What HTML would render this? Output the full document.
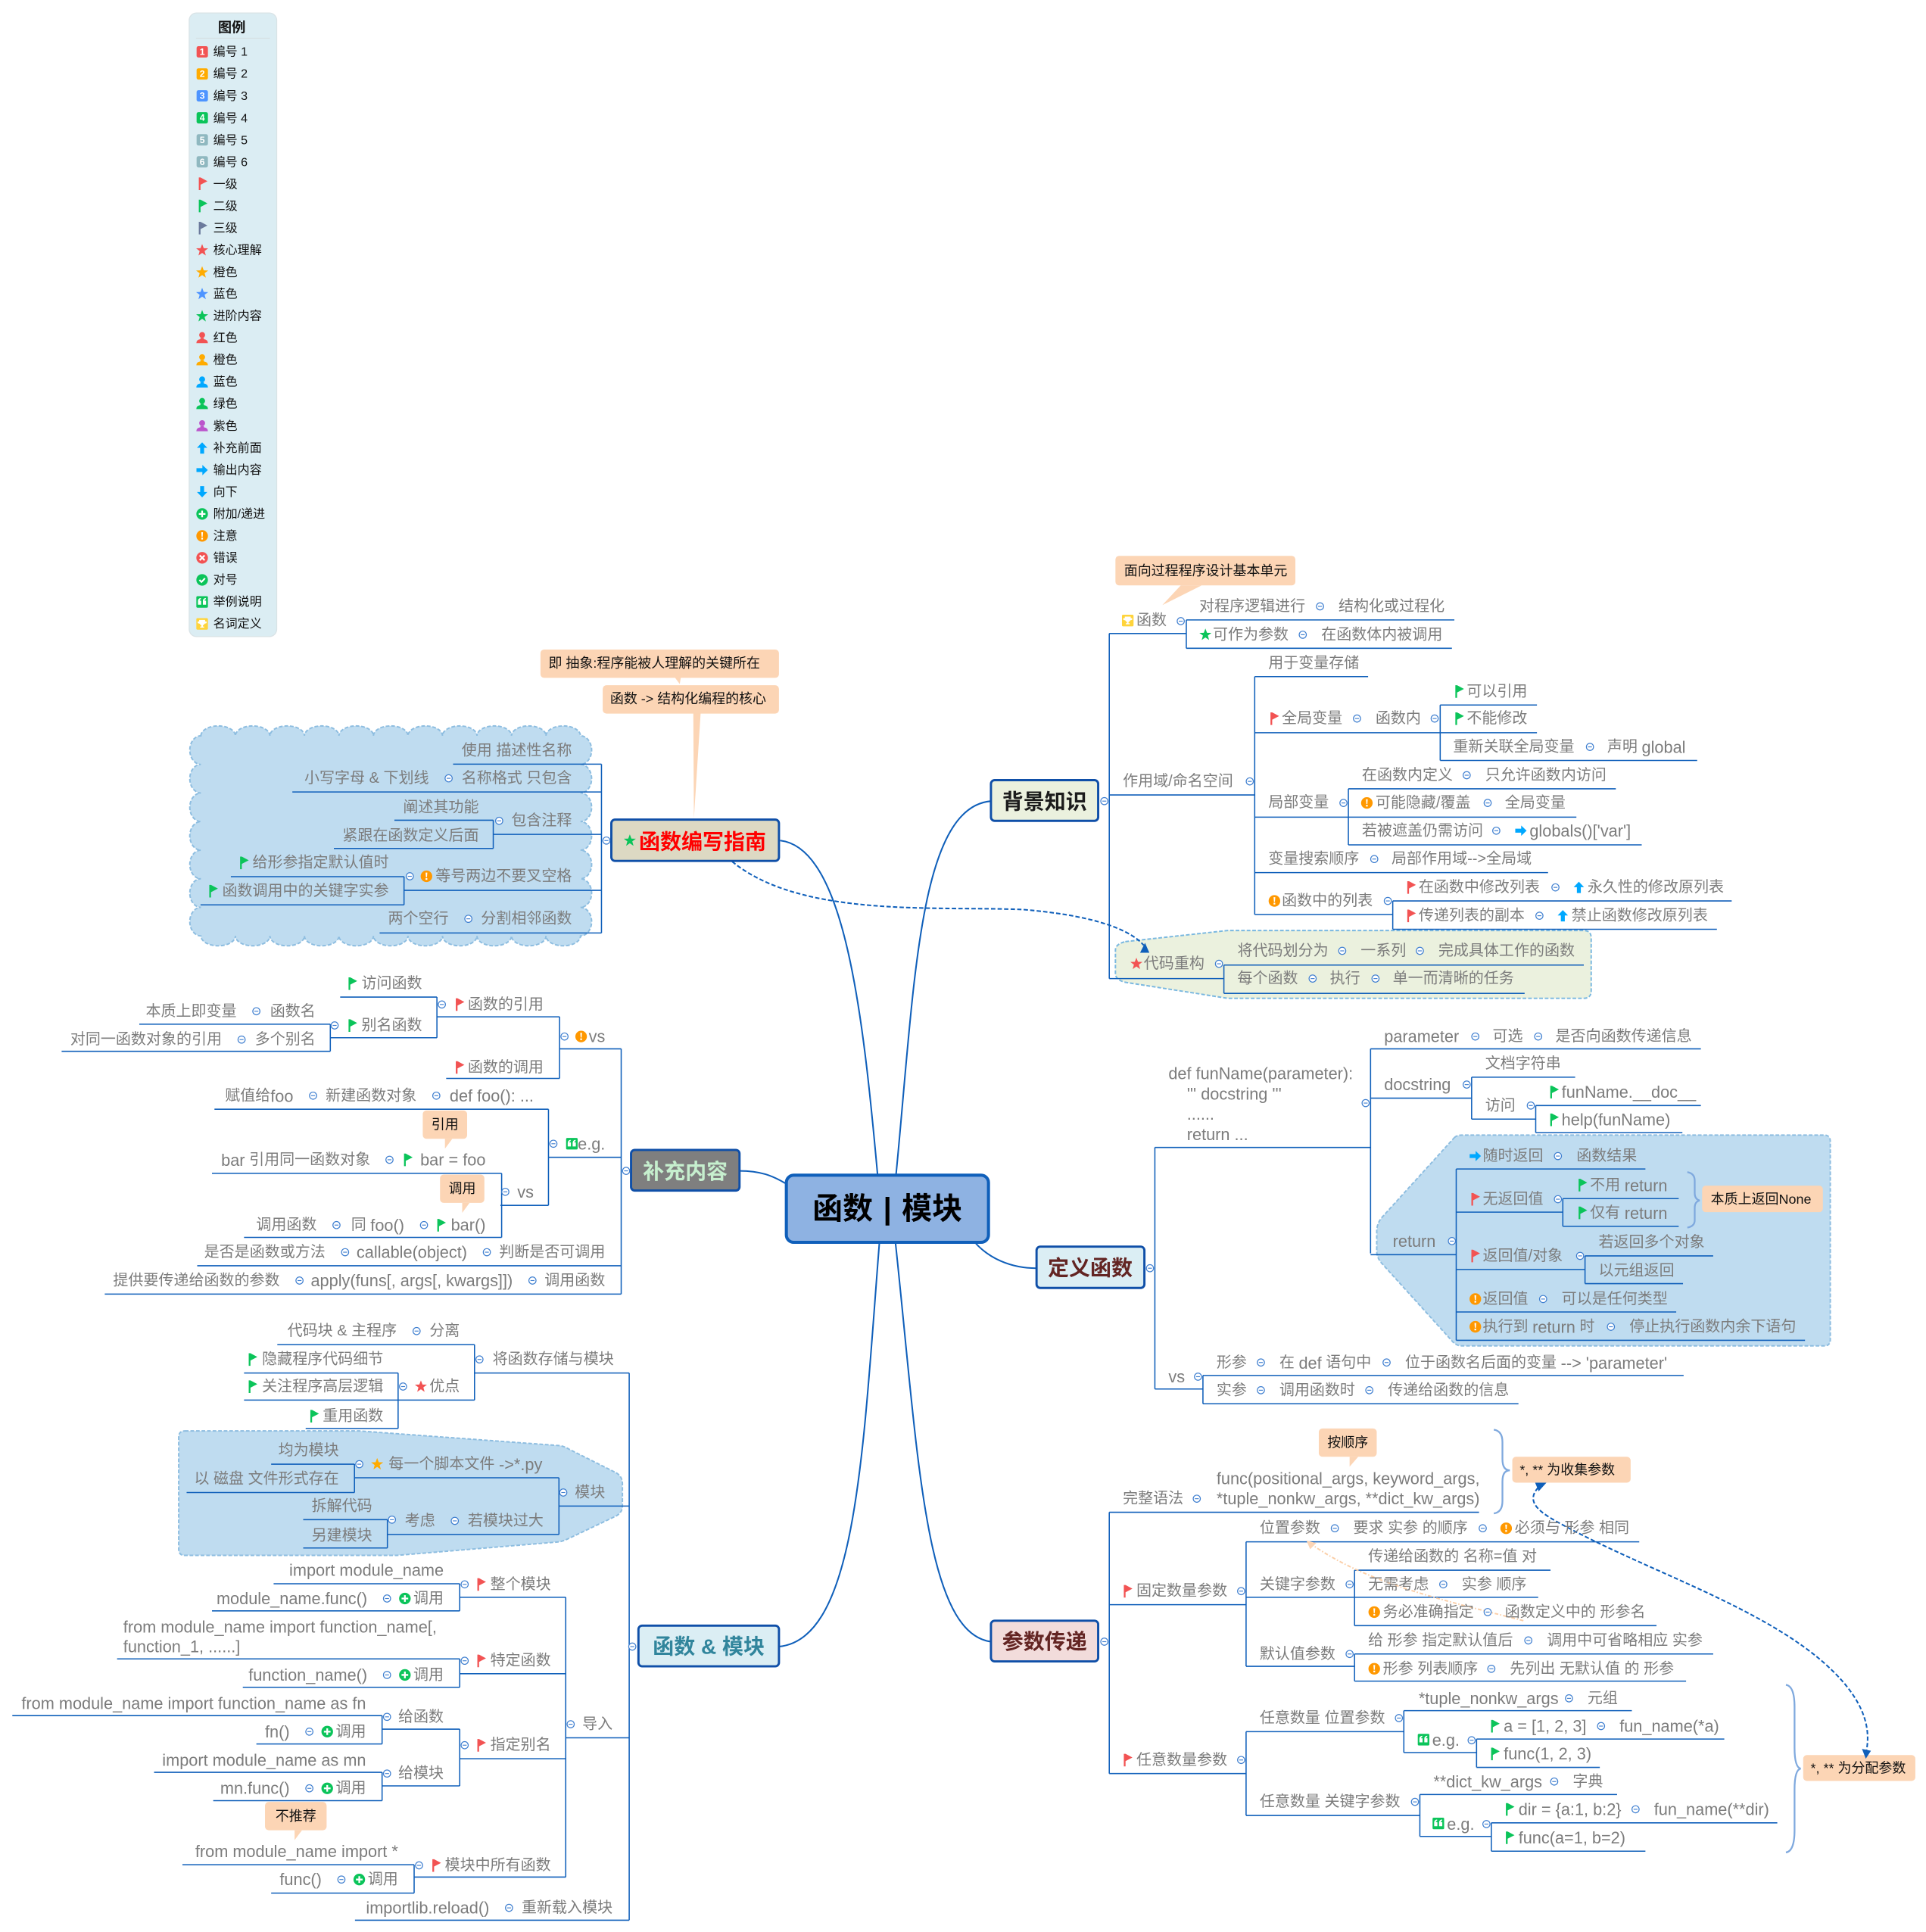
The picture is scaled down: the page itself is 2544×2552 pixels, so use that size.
<!DOCTYPE html>
<html lang="zh"><head><meta charset="utf-8"><title>函数 | 模块</title>
<style>
html,body{margin:0;padding:0;background:#fff}
svg{display:block}
text{font-family:"Liberation Sans","Noto Sans CJK SC",sans-serif;font-size:12.3px;fill:#7c7c7c;dominant-baseline:central}
.e{text-anchor:end}
.a{font-size:13.35px}
text.k{fill:#111;font-size:11.05px}
.m{text-anchor:middle}
.l text{font-size:9.85px;fill:#111}
.l text.n{font-size:7.5px;fill:#fff;font-weight:bold;text-anchor:middle}
text.t{font-size:17.2px;font-weight:bold;text-anchor:middle}
</style></head><body>
<svg xmlns="http://www.w3.org/2000/svg" width="2544" height="2552" viewBox="0 0 1562.65 1567.57">
<defs>
<path id="fp" d="M-3.2-5H-1.8L3.8-2L-1.8.9V5.2H-3.2Z"/>
<use id="fr" href="#fp" fill="#f25353"/>
<use id="fg" href="#fp" fill="#0bc45a"/>
<use id="fd" href="#fp" fill="#6b7a9c"/>
<polygon id="sp" points="0,-5 1.3,-1.6 4.9,-1.5 2,.7 3,4.3 0,2.2 -3,4.3 -2,.7 -4.9,-1.5 -1.3,-1.6"/>
<use id="sr" href="#sp" fill="#f25353"/>
<use id="sg" href="#sp" fill="#0bc45a"/>
<use id="so" href="#sp" fill="#ffab00"/>
<use id="sb" href="#sp" fill="#4d94ff"/>
<g id="w"><circle r="4.7" fill="#ff9800"/><path d="M-.7-3H.7L.4.8H-.4ZM-.7 1.5H.7V2.9H-.7Z" fill="#fff"/></g>
<path id="ar" d="M-4.6-1.6H.2V-4.2L4.6 0L.2 4.2V1.6H-4.6Z" fill="#00a8ff"/>
<path id="au" d="M-1.6 4.6V-.2H-4.2L0-4.6L4.2-.2H1.6V4.6Z" fill="#00a8ff"/>
<path id="ad" d="M-1.6-4.6V.2H-4.2L0 4.6L4.2.2H1.6V-4.6Z" fill="#00a8ff"/>
<g id="pl"><circle r="4.7" fill="#0bc45a"/><path d="M-.7-2.7H.7V-.7H2.7V.7H.7V2.7H-.7V.7H-2.7V-.7H-.7Z" fill="#fff"/></g>
<g id="xx"><circle r="4.7" fill="#f25353"/><path d="M-2-2L2 2M2-2L-2 2" stroke="#fff" stroke-width="1.4"/></g>
<g id="ck"><circle r="4.7" fill="#0bc45a"/><path d="M-2.2 0L-.5 1.7L2.3-1.3" stroke="#fff" stroke-width="1.3" fill="none"/></g>
<g id="eg"><rect x="-4.7" y="-4.7" width="9.4" height="9.4" rx="1" fill="#0bc45a"/><path d="M-3.4-.6Q-3.4-3 -1-3.2V-2.2Q-2-2-2-1.1H-.8V2.2H-3.4ZM.6-.6Q.6-3 3-3.2V-2.2Q2-2 2-1.1H3.2V2.2H.6Z" fill="#fff"/></g>
<g id="tr"><rect x="-4.7" y="-4.7" width="9.4" height="9.4" rx="1" fill="#ffd43b"/><path d="M-2.4-3.2H2.4V-2H3.6V-.6L2-.1Q1.4 1 .6 1.2V2.2H1.6V3H-1.6V2.2H-.6V1.2Q-1.4 1-2-.1L-3.6-.6V-2H-2.4Z" fill="#fff"/></g>
<g id="c"><circle r="2.9" fill="#fff" stroke="#3f7fd0" stroke-width=".75"/><path d="M-1.6 0H1.6" stroke="#3f7fd0" stroke-width=".7"/></g>
<g id="ph"><circle cy="-2.2" r="2.4"/><path d="M-4.7 4.4Q-4.7 1.6-1.4 1.2V.2H1.4V1.2Q4.7 1.6 4.7 4.4Z"/></g>
</defs>

<!-- legend -->
<rect x="153.5" y="10.5" width="71" height="506" rx="6" fill="#dbedf3" stroke="#d9e3e6" stroke-width=".8"/>
<path d="M159 31H219" stroke="#d5dfe2" stroke-width=".7"/>
<g class="l">
<text x="188" y="22" class="m" style="font-weight:bold;font-size:11.2px">图例</text>
<rect x="159.5" y="37.5" width="9.2" height="9.2" rx="1.5" fill="#f25353"/><text x="164.1" y="42.1" class="n">1</text><text x="173" y="42">编号 1</text>
<rect x="159.5" y="55.4" width="9.2" height="9.2" rx="1.5" fill="#ffab00"/><text x="164.1" y="60" class="n">2</text><text x="173" y="60">编号 2</text>
<rect x="159.5" y="73.2" width="9.2" height="9.2" rx="1.5" fill="#4d94ff"/><text x="164.1" y="77.8" class="n">3</text><text x="173" y="78">编号 3</text>
<rect x="159.5" y="91" width="9.2" height="9.2" rx="1.5" fill="#0bc45a"/><text x="164.1" y="95.6" class="n">4</text><text x="173" y="96">编号 4</text>
<rect x="159.5" y="108.9" width="9.2" height="9.2" rx="1.5" fill="#8fb8c0"/><text x="164.1" y="113.5" class="n">5</text><text x="173" y="114">编号 5</text>
<rect x="159.5" y="126.7" width="9.2" height="9.2" rx="1.5" fill="#8fb8c0"/><text x="164.1" y="131.3" class="n">6</text><text x="173" y="131.7">编号 6</text>
<use href="#fr" x="164.5" y="149"/><text x="173" y="149.5">一级</text>
<use href="#fg" x="164.5" y="167"/><text x="173" y="167.4">二级</text>
<use href="#fd" x="164.5" y="185"/><text x="173" y="185.2">三级</text>
<use href="#sr" x="164" y="203"/><text x="173" y="203">核心理解</text>
<use href="#so" x="164" y="221"/><text x="173" y="221">橙色</text>
<use href="#sb" x="164" y="238.5"/><text x="173" y="238.7">蓝色</text>
<use href="#sg" x="164" y="256.5"/><text x="173" y="256.6">进阶内容</text>
<use href="#ph" x="164" y="274" fill="#f25353"/><text x="173" y="274.4">红色</text>
<use href="#ph" x="164" y="292" fill="#ffab00"/><text x="173" y="292.2">橙色</text>
<use href="#ph" x="164" y="310" fill="#00a8ff"/><text x="173" y="310">蓝色</text>
<use href="#ph" x="164" y="327.5" fill="#0bc45a"/><text x="173" y="327.8">绿色</text>
<use href="#ph" x="164" y="345.5" fill="#bb55cc"/><text x="173" y="345.7">紫色</text>
<use href="#au" x="164" y="363.5"/><text x="173" y="363.5">补充前面</text>
<use href="#ar" x="164" y="381.4"/><text x="173" y="381.4">输出内容</text>
<use href="#ad" x="164" y="399"/><text x="173" y="399.2">向下</text>
<use href="#pl" x="164" y="417"/><text x="173" y="417">附加/递进</text>
<use href="#w" x="164" y="434.8"/><text x="173" y="434.8">注意</text>
<use href="#xx" x="164" y="452.6"/><text x="173" y="452.6">错误</text>
<use href="#ck" x="164" y="470.5"/><text x="173" y="470.5">对号</text>
<use href="#eg" x="164" y="488.4"/><text x="173" y="488.4">举例说明</text>
<use href="#tr" x="164" y="506.2"/><text x="173" y="506.2">名词定义</text>
</g>

<!-- boundary shapes -->
<path d="M163 597a14 8 0 0 1 28 0a14 8 0 0 1 28 0a14 8 0 0 1 28 0a14 8 0 0 1 28 0a14 8 0 0 1 28 0a14 8 0 0 1 28 0a14 8 0 0 1 28 0a14 8 0 0 1 28 0a14 8 0 0 1 28 0a14 8 0 0 1 28 0a14 8 0 0 1 28 0a9 11.6 0 0 1 0 23.2a9 11.6 0 0 1 0 23.2a9 11.6 0 0 1 0 23.2a9 11.6 0 0 1 0 23.2a9 11.6 0 0 1 0 23.2a9 11.6 0 0 1 0 23.2a9 11.6 0 0 1 0 23.2a14 8 0 0 1 -28 0a14 8 0 0 1 -28 0a14 8 0 0 1 -28 0a14 8 0 0 1 -28 0a14 8 0 0 1 -28 0a14 8 0 0 1 -28 0a14 8 0 0 1 -28 0a14 8 0 0 1 -28 0a14 8 0 0 1 -28 0a14 8 0 0 1 -28 0a14 8 0 0 1 -28 0a9 11.6 0 0 1 0 -23.2a9 11.6 0 0 1 0 -23.2a9 11.6 0 0 1 0 -23.2a9 11.6 0 0 1 0 -23.2a9 11.6 0 0 1 0 -23.2a9 11.6 0 0 1 0 -23.2a9 11.6 0 0 1 0 -23.2Z" fill="#bfdcf0" stroke="#8dbde0" stroke-width="1.2" stroke-dasharray="3 1.5"/>
<path d="M913 764L996 755H1285Q1291 755 1291 761V804Q1291 810 1285 810H996L913 797Q905 795 905 790V771Q905 766 913 764Z" fill="#ebf1de" stroke="#7ab8e0" stroke-width="1.2" stroke-dasharray="3 1.5"/>
<path d="M1180 923Q1182 921 1186 921H1480Q1485 921 1485 926V1087Q1485 1092 1480 1092H1186Q1182 1092 1179 1089L1122 1026Q1117 1021 1117 1015V999Q1117 993 1121 988Z" fill="#bfdcf0" stroke="#8dbde0" stroke-width="1.2" stroke-dasharray="3 1.5"/>
<path d="M150 1161H291L455 1173Q459 1174 462 1176L500 1195Q505 1198 505 1204V1222Q505 1227 500 1230L462 1248Q458 1250 454 1251L322 1262H150Q145 1262 145 1257V1166Q145 1161 150 1161Z" fill="#bfdcf0" stroke="#8dbde0" stroke-width="1.2" stroke-dasharray="3 1.5"/>

<!-- main curves -->
<g fill="none" stroke="#0f5fba" stroke-width="1.25">
<path d="M712 953C700 820 685 688 633 682"/>
<path d="M727 953C742 800 745 655 804 650"/>
<path d="M713.5 1008C700 1180 695 1330 632 1336"/>
<path d="M726.5 1008C745 1180 750 1325 804 1332"/>
<path d="M600 950C617 950 627 954 637 960"/>
<path d="M790 1007C802 1021 820 1029 841 1029"/>
</g>

<!-- underline connectors -->
<path fill="none" stroke="#0f5fba" stroke-width=".95" d="
M900 514V794M900 514H962.5M962.5 503V526M962.5 503H1180M962.5 526H1178
M900 645H1018M1018 549V742M1018 549H1110M1018 594.5H1168.5M1168.5 572V617M1168.5 572H1247M1168.5 594.5H1247M1168.5 617H1377
M1018 663H1094M1094 640V685.5M1094 640H1311M1094 663H1279M1094 685.5H1332M1018 708H1256M1018 742H1130M1130 731V754M1130 731H1405M1130 754H1393
M900 794H993M993 783V806M993 783H1285M993 806H1237

M937 931V1127M937 931H1112M1112 851V1017M1112 851H1380M1112 891H1194M1194 874V908M1194 874H1278M1194 908H1246M1246 897V919M1246 897H1380M1246 919H1365
M1112 1018H1181.5M1181.5 948.5V1087.5M1181.5 948.5H1335M1181.5 983.5H1268M1268 972.5V995M1268 972.5H1362M1268 995H1362M1181.5 1030H1286M1286 1019V1041.5M1286 1019H1390M1286 1041.5H1365.5M1181.5 1064.5H1360M1181.5 1087.5H1464.5
M937 1127H976M976 1116V1139M976 1116H1366M976 1139H1232

M900 1227V1439M900 1227H1200M900 1302H1011M1011 1251V1352M1011 1251H1330M1011 1296H1099M1099 1274V1319M1099 1274H1258M1099 1296H1248M1099 1319H1344M1011 1352H1099M1099 1342V1364M1099 1342H1390M1099 1364H1368
M900 1439H1011M1011 1405V1473M1011 1405H1139M1139 1388V1422M1139 1388H1324M1139 1422H1198M1198 1411V1434M1198 1411H1399M1198 1434H1298M1011 1473H1152M1152 1456V1490M1152 1456H1312M1152 1490H1210M1210 1479V1502M1210 1479H1442M1210 1502H1335

M488 620V757M367.6 620H488M237.2 642.6H488M400.2 677H488M400.2 665.5V688.4M320 665.5H400.2M270.9 688.4H400.2M327.8 722.4H488M327.8 711.3V734.2M187.3 711.3H327.8M162.7 734.2H327.8M308 757H488

M504 851V1050M454 851H504M454 825V875M354.5 825H454M354.5 809V842M276 809H354.5M268 842H354.5M268 831V853M113 831H268M50 853H268M362 875H454
M445 939H504M445 900V978M174 900H445M172 952H407M406 978H445M407 952V1004M198 1004H407M160 1027H504M85 1050H504

M510.5 1114V1558M385 1114H510.5M385 1091V1136M225 1091H385M323 1136H385M323 1114V1159M198 1114H323M198 1136H323M248 1159H323
M453.5 1222H510.5M453.5 1199V1245M287.6 1199H453.5M287.6 1188V1211M220 1188H287.6M151.4 1211H287.6M314.3 1245H453.5M314.3 1233V1256M246 1233H314.3M246 1256H314.3
M459 1410H510.5M459 1296V1523M373 1296H459M373 1285V1307M222 1285H373M172 1307H373M373 1358H459M373 1346V1369M95 1346H373M197 1369H373M373 1427H459M373 1403V1449M310 1403H373M310 1392V1415M10 1392H310M208 1415H310M310 1449H373M310 1438V1461M125 1438H310M173 1461H310M336 1523H459M336 1513V1536M148 1513H336M220 1536H336M288 1558H510.5"/>

<!-- callouts -->
<g fill="#fcd5b5">
<path d="M563 664L562.5 578H568.5Z"/><path d="M547 549H552.5L551.5 555Z"/>
<rect x="438.5" y="527" width="193.5" height="23" rx="3"/><rect x="489" y="556" width="143" height="23" rx="3"/>
<rect x="905" y="451" width="146" height="24" rx="3"/><path d="M943 491L958 475H975Z"/>
<rect x="1381" y="962" width="98" height="21.5" rx="3"/>
<rect x="1070" y="1159" width="47" height="23" rx="3"/><path d="M1095 1182H1102L1095 1190Z"/>
<rect x="1227" y="1182" width="96" height="21" rx="3"/>
<rect x="1463" y="1424" width="91" height="21" rx="3"/>
<rect x="343" y="901" width="36" height="23" rx="3"/><path d="M361 924H367L361 932Z"/>
<rect x="357" y="953" width="36" height="23" rx="3"/><path d="M375 976H381L375 984Z"/>
<rect x="215" y="1462" width="50" height="23" rx="3"/><path d="M239 1485H245L239 1493Z"/>
</g>
<text class="k" x="445" y="538">即 抽象:程序能被人理解的关键所在</text>
<text class="k" x="495" y="567">函数 -&gt; 结构化编程的核心</text>
<text class="k" x="912" y="463">面向过程程序设计基本单元</text>
<text class="k" x="1388" y="973">本质上返回None</text>
<text class="k m" x="1093.5" y="1170.5">按顺序</text>
<text class="k" x="1233" y="1192.5">*, ** 为收集参数</text>
<text class="k" x="1469" y="1434.5">*, ** 为分配参数</text>
<text class="k m" x="361" y="912.5">引用</text>
<text class="k m" x="375" y="964.5">调用</text>
<text class="k m" x="240" y="1473.5">不推荐</text>

<!-- braces -->
<g fill="none" stroke="#7fa9de" stroke-width="1.4">
<path d="M1212 1160Q1219 1161 1219 1170V1184Q1219 1193 1225 1193Q1219 1193 1219 1202V1218Q1219 1227 1212 1228"/>
<path d="M1449 1367Q1456 1368 1456 1385V1418Q1456 1434 1461 1435Q1456 1436 1456 1452V1485Q1456 1502 1449 1503"/>
<path d="M1369 951Q1375 952 1375 958V968Q1375 973 1379 974Q1375 975 1375 980V990Q1375 995 1369 996"/>
</g>

<!-- dashed relationships -->
<g fill="none" stroke="#0f5fba" stroke-width="1.25" stroke-dasharray="3.5 1.8">
<path d="M594 699C650 745 760 735 830 738C880 742 915 752 928 767"/>
<path d="M1248 1207C1238 1218 1248 1226 1262 1234C1330 1272 1420 1300 1475 1345C1505 1370 1520 1395 1514 1422"/>
</g>
<g fill="#0f5fba">
<polygon points="925,773 932.5,773 929,765"/>
<polygon points="1245.5,1203 1254.7,1203 1248.4,1210"/>
<polygon points="1510.7,1419 1518,1420.5 1513.8,1427"/>
</g>
<path d="M1236 1315C1170 1298 1110 1285 1064 1253" fill="none" stroke="#fbcfa8" stroke-width="1.2" stroke-dasharray="3 1.5 1 1.5"/>
<polygon points="1060,1250 1068,1252 1063,1257" fill="#fcd5b5"/>

<!-- main topics -->
<rect x="638" y="953.5" width="164" height="54.5" rx="6" fill="#8eb2e2" stroke="#0f5fba" stroke-width="2.5"/>
<text x="720" y="981" class="m" style="font-size:24.5px;font-weight:bold;fill:#000;word-spacing:1.5px">函数 | 模块</text>
<rect x="804" y="633" width="87" height="33" rx="3" fill="#ebf1de" stroke="#0f4fa8" stroke-width="1.8"/>
<text class="t" x="847.5" y="650.5" style="fill:#1c1c1c">背景知识</text>
<rect x="841" y="1011.5" width="87.5" height="33.5" rx="3" fill="#dbeef4" stroke="#0f4fa8" stroke-width="1.8"/>
<text class="t" x="884.5" y="1029" style="fill:#632523">定义函数</text>
<rect x="804" y="1315" width="87" height="33" rx="3" fill="#f2dcdb" stroke="#0f4fa8" stroke-width="1.8"/>
<text class="t" x="847.5" y="1332" style="fill:#632523">参数传递</text>
<rect x="518" y="1319" width="114" height="33" rx="3" fill="#dbeef4" stroke="#0f4fa8" stroke-width="1.8"/>
<text class="t" x="575" y="1336" style="fill:#31859c">函数 &amp; 模块</text>
<rect x="512" y="933" width="88" height="33" rx="3" fill="#7f7f7f" stroke="#0f4fa8" stroke-width="1.8"/>
<text class="t" x="556" y="950.5" style="fill:#c6efce">补充内容</text>
<rect x="496" y="665" width="136" height="33.5" rx="3" fill="#ddd9c3" stroke="#0f4fa8" stroke-width="1.8"/>
<use href="#sg" x="511" y="682"/>
<text class="t" x="570" y="683" style="fill:#f00">函数编写指南</text>

<!-- 背景知识 -->
<use href="#tr" x="915" y="503.5"/><text x="922" y="503.5">函数</text>
<text x="973" y="492">对程序逻辑进行</text><text x="1086" y="492">结构化或过程化</text>
<use href="#sg" x="978" y="515"/><text x="984" y="515">可作为参数</text><text x="1072" y="515">在函数体内被调用</text>
<text x="1029" y="538">用于变量存储</text>
<use href="#fg" x="1184" y="561"/><text x="1190" y="561">可以引用</text>
<use href="#fr" x="1034" y="583"/><text x="1040" y="583">全局变量</text><text x="1116" y="583">函数内</text>
<use href="#fg" x="1184" y="583"/><text x="1190" y="583">不能修改</text>
<text x="1179" y="606">重新关联全局变量</text><text x="1304" y="606">声明 <tspan class="a">global</tspan></text>
<text x="911" y="634">作用域/命名空间</text>
<text x="1105" y="629">在函数内定义</text><text x="1205" y="629">只允许函数内访问</text>
<text x="1029" y="651">局部变量</text>
<use href="#w" x="1109" y="651.5"/><text x="1116" y="651.5">可能隐藏/覆盖</text><text x="1221" y="651.5">全局变量</text>
<text x="1105" y="674">若被遮盖仍需访问</text><use href="#ar" x="1234" y="674"/><text class="a" x="1241" y="674">globals()['var']</text>
<text x="1029" y="697">变量搜索顺序</text><text x="1129" y="697">局部作用域--&gt;全局域</text>
<use href="#w" x="1034" y="731"/><text x="1040" y="731">函数中的列表</text>
<use href="#fr" x="1145" y="720"/><text x="1151" y="720">在函数中修改列表</text><use href="#au" x="1281" y="720"/><text x="1288" y="720">永久性的修改原列表</text>
<use href="#fr" x="1145" y="743"/><text x="1151" y="743">传递列表的副本</text><use href="#au" x="1268" y="743"/><text x="1275" y="743">禁止函数修改原列表</text>
<use href="#sr" x="922" y="782"/><text x="928" y="782">代码重构</text>
<text x="1004" y="771.5">将代码划分为</text><text x="1104" y="771.5">一系列</text><text x="1167" y="771.5">完成具体工作的函数</text>
<text x="1004" y="794">每个函数</text><text x="1079" y="794">执行</text><text x="1130" y="794">单一而清晰的任务</text>

<!-- 定义函数 -->
<text class="a" x="948" y="871">def funName(parameter):</text>
<text class="a" x="963" y="887.5">''' docstring '''</text>
<text class="a" x="963" y="904">......</text>
<text class="a" x="963" y="920.5">return ...</text>
<text class="a" x="1123" y="841">parameter</text><text x="1211" y="841">可选</text><text x="1262" y="841">是否向函数传递信息</text>
<text class="a" x="1123" y="880">docstring</text>
<text x="1205" y="863">文档字符串</text>
<text x="1205" y="897">访问</text>
<use href="#fg" x="1261" y="886"/><text class="a" x="1267" y="886">funName.__doc__</text>
<use href="#fg" x="1261" y="908.5"/><text class="a" x="1267" y="908.5">help(funName)</text>
<text class="a" x="1130" y="1007">return</text>
<use href="#ar" x="1197" y="938"/><text x="1203" y="938">随时返回</text><text x="1279" y="938">函数结果</text>
<use href="#fr" x="1197" y="973"/><text x="1203" y="973">无返回值</text>
<use href="#fg" x="1284" y="961.5"/><text x="1290" y="961.5">不用 <tspan class="a">return</tspan></text>
<use href="#fg" x="1284" y="984"/><text x="1290" y="984">仅有 <tspan class="a">return</tspan></text>
<use href="#fr" x="1197" y="1019"/><text x="1203" y="1019">返回值/对象</text>
<text x="1297" y="1008">若返回多个对象</text><text x="1297" y="1031">以元组返回</text>
<use href="#w" x="1197" y="1054"/><text x="1203" y="1054">返回值</text><text x="1267" y="1054">可以是任何类型</text>
<use href="#w" x="1197" y="1076.5"/><text x="1203" y="1076.5">执行到 <tspan class="a">return</tspan> 时</text><text x="1322" y="1076.5">停止执行函数内余下语句</text>
<text class="a" x="948" y="1117">vs</text>
<text x="987" y="1105.5">形参</text><text x="1038" y="1105.5">在 <tspan class="a">def</tspan> 语句中</text><text x="1140" y="1105.5">位于函数名后面的变量 <tspan class="a">--&gt; 'parameter'</tspan></text>
<text x="987" y="1128">实参</text><text x="1038" y="1128">调用函数时</text><text x="1126" y="1128">传递给函数的信息</text>

<!-- 参数传递 -->
<text x="911" y="1216">完整语法</text>
<text class="a" x="987" y="1199.5">func(positional_args, keyword_args,</text>
<text class="a" x="987" y="1216">*tuple_nonkw_args, **dict_kw_args)</text>
<use href="#fr" x="915" y="1291"/><text x="922" y="1291">固定数量参数</text>
<text x="1022" y="1240">位置参数</text><text x="1098" y="1240">要求 实参 的顺序</text><use href="#w" x="1222" y="1240"/><text x="1229" y="1240">必须与 形参 相同</text>
<text x="1022" y="1285.5">关键字参数</text>
<text x="1110" y="1263">传递给函数的 名称=值 对</text>
<text x="1110" y="1285.5">无需考虑</text><text x="1186" y="1285.5">实参 顺序</text>
<use href="#w" x="1115" y="1308"/><text x="1122" y="1308">务必准确指定</text><text x="1221" y="1308">函数定义中的 形参名</text>
<text x="1022" y="1342">默认值参数</text>
<text x="1110" y="1331">给 形参 指定默认值后</text><text x="1255" y="1331">调用中可省略相应 实参</text>
<use href="#w" x="1115" y="1354"/><text x="1122" y="1354">形参 列表顺序</text><text x="1225" y="1354">先列出 无默认值 的 形参</text>
<use href="#fr" x="915" y="1428"/><text x="922" y="1428">任意数量参数</text>
<text x="1022" y="1394">任意数量 位置参数</text>
<text class="a" x="1151" y="1378">*tuple_nonkw_args</text><text x="1288" y="1378">元组</text>
<use href="#eg" x="1155" y="1411.5"/><text class="a" x="1162" y="1412">e.g.</text>
<use href="#fg" x="1213" y="1400.5"/><text class="a" x="1220" y="1400.5">a = [1, 2, 3]</text><text class="a" x="1314" y="1400.5">fun_name(*a)</text>
<use href="#fg" x="1213" y="1423"/><text class="a" x="1220" y="1423">func(1, 2, 3)</text>
<text x="1022" y="1462">任意数量 关键字参数</text>
<text class="a" x="1163" y="1445.5">**dict_kw_args</text><text x="1276" y="1445.5">字典</text>
<use href="#eg" x="1167" y="1479.5"/><text class="a" x="1174" y="1480">e.g.</text>
<use href="#fg" x="1225" y="1468"/><text class="a" x="1232" y="1468">dir = {a:1, b:2}</text><text class="a" x="1342" y="1468">fun_name(**dir)</text>
<use href="#fg" x="1225" y="1491"/><text class="a" x="1232" y="1491">func(a=1, b=2)</text>

<!-- 函数编写指南 -->
<text class="e" x="464" y="609">使用 描述性名称</text>
<text class="e" x="348" y="631.5">小写字母 &amp; 下划线</text><text class="e" x="464" y="631.5">名称格式 只包含</text>
<text class="e" x="464" y="666">包含注释</text>
<text class="e" x="388.5" y="655">阐述其功能</text><text class="e" x="388.5" y="678">紧跟在函数定义后面</text>
<use href="#w" x="346" y="711"/><text class="e" x="464" y="711">等号两边不要叉空格</text>
<use href="#fg" x="198" y="700"/><text class="e" x="315.5" y="700">给形参指定默认值时</text>
<use href="#fg" x="173" y="723"/><text class="e" x="315.5" y="723">函数调用中的关键字实参</text>
<text class="e" x="364" y="745.5">两个空行</text><text class="e" x="464" y="745.5">分割相邻函数</text>

<!-- 补充内容 -->
<use href="#w" x="471.5" y="841"/><text class="e a" x="491" y="841">vs</text>
<use href="#fr" x="373" y="815"/><text class="e" x="441" y="815">函数的引用</text>
<use href="#fg" x="286" y="798"/><text class="e" x="342.5" y="798">访问函数</text>
<use href="#fg" x="286" y="832"/><text class="e" x="342.5" y="832">别名函数</text>
<text class="e" x="192" y="820.5">本质上即变量</text><text class="e" x="256" y="820.5">函数名</text>
<text class="e" x="180" y="843.5">对同一函数对象的引用</text><text class="e" x="256" y="843.5">多个别名</text>
<use href="#fr" x="373" y="866"/><text class="e" x="441" y="866">函数的调用</text>
<use href="#eg" x="464" y="928"/><text class="e a" x="491" y="928">e.g.</text>
<text class="e" x="238" y="889">赋值给<tspan class="a">foo</tspan></text><text class="e" x="338" y="889">新建函数对象</text><text class="e a" x="433" y="889">def foo(): ...</text>
<text class="e" x="300.5" y="941"><tspan class="a">bar</tspan> 引用同一函数对象</text><use href="#fg" x="331" y="941"/><text class="e a" x="394" y="941">bar = foo</text>
<text class="e a" x="433" y="967">vs</text>
<text class="e" x="257" y="994">调用函数</text><text class="e" x="328" y="994">同 <tspan class="a">foo()</tspan></text><use href="#fg" x="358" y="994"/><text class="e a" x="394" y="994">bar()</text>
<text class="e" x="264" y="1016">是否是函数或方法</text><text class="e a" x="379" y="1016">callable(object)</text><text class="e" x="491" y="1016">判断是否可调用</text>
<text class="e" x="227" y="1039">提供要传递给函数的参数</text><text class="e a" x="416" y="1039">apply(funs[, args[, kwargs]])</text><text class="e" x="491" y="1039">调用函数</text>

<!-- 函数&模块 -->
<text class="e" x="498" y="1103">将函数存储与模块</text>
<text class="e" x="322" y="1080">代码块 &amp; 主程序</text><text class="e" x="373" y="1080">分离</text>
<use href="#sr" x="341.5" y="1125"/><text class="e" x="373" y="1125">优点</text>
<use href="#fg" x="205" y="1103"/><text class="e" x="311" y="1103">隐藏程序代码细节</text>
<use href="#fg" x="205" y="1125"/><text class="e" x="311" y="1125">关注程序高层逻辑</text>
<use href="#fg" x="255" y="1149"/><text class="e" x="311" y="1149">重用函数</text>
<text class="e" x="491" y="1211">模块</text>
<use href="#so" x="306" y="1188"/><text class="e" x="440" y="1188">每一个脚本文件 <tspan class="a">-&gt;*.py</tspan></text>
<text class="e" x="275" y="1177">均为模块</text><text class="e" x="275" y="1200">以 磁盘 文件形式存在</text>
<text class="e" x="353" y="1234">考虑</text><text class="e" x="441" y="1234">若模块过大</text>
<text class="e" x="302" y="1222">拆解代码</text><text class="e" x="302" y="1246">另建模块</text>
<text class="e" x="497" y="1399">导入</text>
<use href="#fr" x="390.5" y="1285.5"/><text class="e" x="447" y="1285.5">整个模块</text>
<text class="e a" x="360" y="1274">import module_name</text>
<text class="e a" x="298" y="1297">module_name.func()</text><use href="#pl" x="328.5" y="1297"/><text class="e" x="360" y="1297">调用</text>
<use href="#fr" x="390.5" y="1347.5"/><text class="e" x="447" y="1347.5">特定函数</text>
<text class="a" x="100" y="1320">from module_name import function_name[,</text>
<text class="a" x="100" y="1336">function_1, ......]</text>
<text class="e a" x="298" y="1359">function_name()</text><use href="#pl" x="328.5" y="1359"/><text class="e" x="360" y="1359">调用</text>
<use href="#fr" x="390.5" y="1416"/><text class="e" x="447" y="1416">指定别名</text>
<text class="e" x="360" y="1393">给函数</text>
<text class="e a" x="297" y="1382">from module_name import function_name as fn</text>
<text class="e a" x="235" y="1405">fn()</text><use href="#pl" x="265.5" y="1405"/><text class="e" x="297" y="1405">调用</text>
<text class="e" x="360" y="1439">给模块</text>
<text class="e a" x="297" y="1428">import module_name as mn</text>
<text class="e a" x="235" y="1451">mn.func()</text><use href="#pl" x="265.5" y="1451"/><text class="e" x="297" y="1451">调用</text>
<use href="#fr" x="354" y="1513.5"/><text class="e" x="447" y="1513.5">模块中所有函数</text>
<text class="e a" x="323" y="1502">from module_name import *</text>
<text class="e a" x="261" y="1525">func()</text><use href="#pl" x="291.5" y="1525"/><text class="e" x="323" y="1525">调用</text>
<text class="e a" x="397" y="1548">importlib.reload()</text><text class="e" x="497" y="1548">重新载入模块</text>

<!-- collapse circles -->
<g>
<use href="#c" x="896" y="650"/><use href="#c" x="933" y="1029"/><use href="#c" x="896" y="1332"/><use href="#c" x="492" y="682"/><use href="#c" x="508" y="950"/><use href="#c" x="513" y="1336"/>
<use href="#c" x="958" y="504"/><use href="#c" x="1071" y="492"/><use href="#c" x="1057" y="515"/><use href="#c" x="1014" y="634"/><use href="#c" x="1101" y="583"/><use href="#c" x="1164" y="583"/><use href="#c" x="1290" y="606"/><use href="#c" x="1190" y="629"/><use href="#c" x="1090" y="651.5"/><use href="#c" x="1207" y="651.5"/><use href="#c" x="1214" y="674"/><use href="#c" x="1115" y="697"/><use href="#c" x="1126" y="731"/><use href="#c" x="1262" y="720"/><use href="#c" x="1249" y="743"/><use href="#c" x="989" y="782"/><use href="#c" x="1089" y="771.5"/><use href="#c" x="1152" y="771.5"/><use href="#c" x="1065" y="794"/><use href="#c" x="1116" y="794"/>
<use href="#c" x="1108" y="895"/><use href="#c" x="1197" y="841"/><use href="#c" x="1248" y="841"/><use href="#c" x="1190" y="880"/><use href="#c" x="1242" y="897"/><use href="#c" x="1178" y="1007"/><use href="#c" x="1264" y="938"/><use href="#c" x="1264" y="973"/><use href="#c" x="1282" y="1019"/><use href="#c" x="1252" y="1054"/><use href="#c" x="1307" y="1076.5"/><use href="#c" x="972" y="1117"/><use href="#c" x="1023" y="1105.5"/><use href="#c" x="1125" y="1105.5"/><use href="#c" x="1023" y="1128"/><use href="#c" x="1111" y="1128"/>
<use href="#c" x="971" y="1216"/><use href="#c" x="1007" y="1291"/><use href="#c" x="1083" y="1240"/><use href="#c" x="1203" y="1240"/><use href="#c" x="1095" y="1285.5"/><use href="#c" x="1171" y="1285.5"/><use href="#c" x="1207" y="1308"/><use href="#c" x="1095" y="1342"/><use href="#c" x="1240" y="1331"/><use href="#c" x="1210" y="1354"/><use href="#c" x="1007" y="1428"/><use href="#c" x="1135" y="1394"/><use href="#c" x="1273" y="1378"/><use href="#c" x="1194" y="1412"/><use href="#c" x="1299" y="1400.5"/><use href="#c" x="1148" y="1462"/><use href="#c" x="1261" y="1445.5"/><use href="#c" x="1206" y="1480"/><use href="#c" x="1327" y="1468"/>
<use href="#c" x="364" y="631.5"/><use href="#c" x="405" y="666"/><use href="#c" x="332.5" y="711"/><use href="#c" x="380" y="745.5"/>
<use href="#c" x="458" y="841"/><use href="#c" x="358.5" y="815"/><use href="#c" x="271.5" y="832"/><use href="#c" x="208" y="820.5"/><use href="#c" x="196" y="843.5"/><use href="#c" x="449" y="928"/><use href="#c" x="254" y="889"/><use href="#c" x="354" y="889"/><use href="#c" x="316" y="941"/><use href="#c" x="410" y="967"/><use href="#c" x="273" y="994"/><use href="#c" x="344" y="994"/><use href="#c" x="280" y="1016"/><use href="#c" x="395" y="1016"/><use href="#c" x="243" y="1039"/><use href="#c" x="432" y="1039"/>
<use href="#c" x="389" y="1103"/><use href="#c" x="338" y="1080"/><use href="#c" x="327" y="1125"/><use href="#c" x="457" y="1211"/><use href="#c" x="291.5" y="1188"/><use href="#c" x="318" y="1233"/><use href="#c" x="369" y="1234"/><use href="#c" x="463" y="1399"/><use href="#c" x="377" y="1285.5"/><use href="#c" x="314" y="1297"/><use href="#c" x="377" y="1347.5"/><use href="#c" x="314" y="1359"/><use href="#c" x="377" y="1416"/><use href="#c" x="314" y="1393"/><use href="#c" x="251" y="1405"/><use href="#c" x="314" y="1439"/><use href="#c" x="251" y="1451"/><use href="#c" x="340" y="1513.5"/><use href="#c" x="277" y="1525"/><use href="#c" x="413" y="1548"/>
</g>
</svg>
</body></html>
